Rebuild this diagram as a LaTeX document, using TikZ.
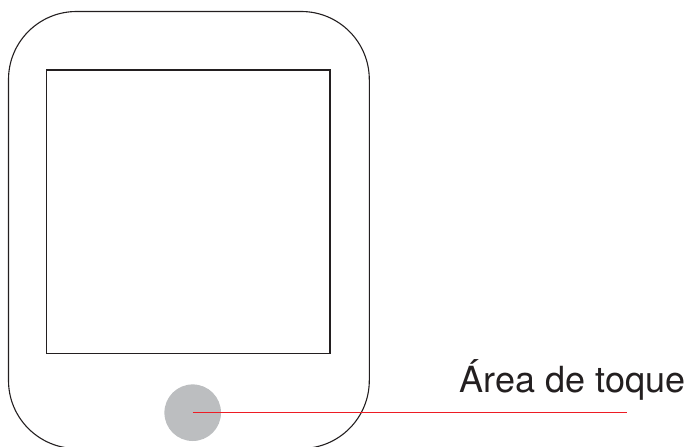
\documentclass[tikz,border=0pt]{standalone}
\usepackage{fontspec}
\setmainfont{TeX Gyre Heros}
\definecolor{ink}{HTML}{231F20}
\definecolor{padgray}{HTML}{BCBEC0}
\definecolor{leader}{HTML}{ED1C24}
\tikzset{
  outline/.style={draw=ink, line width=1.1pt},
  pad/.style={circle, fill=padgray, minimum size=56.6pt, inner sep=0pt},
  leaderline/.style={draw=leader, line width=1pt},
  caption/.style={anchor=base west, inner sep=0pt, text=ink, font=\fontsize{36}{40}\selectfont}
}
\begin{document}
\begin{tikzpicture}[x=1pt, y=-1pt]
  \useasboundingbox (0,0) rectangle (689,447);
  \begin{scope}
    \clip (0,0) rectangle (689,447);
    \draw[outline, rounded corners=68pt] (8.5,11.5) rectangle (369.3,448.5);
  \end{scope}
  \draw[outline] (46.7,70) rectangle (330,353.3);
  \node[pad] (touch) at (192.7,412.7) {};
  \coordinate (lineend) at (627,412.7);
  \node[caption] (label) at (459.5,392.5) {Área de toque};
  \draw[leaderline] (touch.center) -- (lineend);
\end{tikzpicture}
\end{document}
